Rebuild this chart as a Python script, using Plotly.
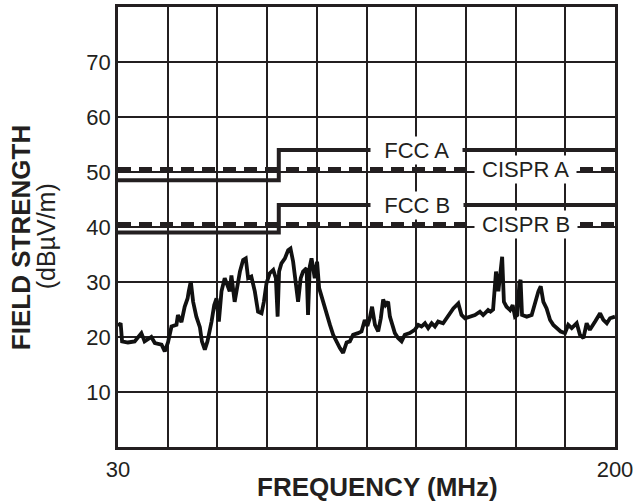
import plotly.graph_objects as go

# ---- data ----
freq_mhz = [30.0, 30.9, 31.4, 33.4, 35.7, 38.0, 39.1, 41.4, 42.6, 44.9, 46.0, 47.1, 48.3, 50.0, 50.5,
            51.7, 52.8, 53.8, 54.2, 54.9, 55.7, 56.8, 58.0, 58.7, 59.7, 60.6, 62.0, 62.9, 63.7, 64.5,
            65.4, 66.5, 68.2, 68.8, 69.9, 71.1, 71.7, 72.8, 73.7, 74.5, 75.6, 76.8, 77.9, 79.1, 79.9,
            80.8, 81.9, 83.1, 84.0, 84.6, 85.1, 85.9, 87.1, 88.2, 89.0, 89.9, 90.8, 91.6, 92.5, 93.3,
            94.5, 95.0, 95.6, 96.2, 97.3, 98.1, 98.8, 99.6, 100.7, 101.5, 102.5, 103.6, 104.7, 105.9,
            107.0, 108.2, 109.3, 110.4, 112.1, 113.3, 114.4, 115.3, 116.1, 116.9, 117.9, 119.0, 119.9,
            120.7, 121.5, 122.4, 123.0, 123.8, 124.7, 125.8, 127.0, 128.1, 129.8, 131.5, 132.7, 133.8,
            135.0, 136.1, 137.3, 138.4, 139.5, 141.2, 142.9, 144.7, 146.4, 147.5, 148.7, 150.4, 152.1,
            153.8, 154.9, 156.6, 157.4, 158.3, 159.3, 160.1, 160.9, 161.4, 162.0, 162.9, 164.1, 165.0,
            165.8, 166.6, 167.3, 167.7, 168.2, 169.8, 171.5, 172.6, 173.8, 174.6, 175.5, 176.6, 177.8,
            178.9, 180.1, 181.4, 182.9, 184.0, 185.2, 186.9, 188.0, 189.2, 190.3, 191.4, 193.2, 194.9,
            196.0, 197.2, 198.3, 200.0]
level_dbuv = [22.0, 22.5, 19.2, 19.0, 19.2, 20.7, 19.2, 20.0, 18.9, 18.6, 17.4, 19.0, 21.9, 22.2, 24.0,
              22.7, 25.5, 27.0, 28.3, 30.1, 26.4, 23.7, 21.8, 19.2, 17.7, 19.2, 22.8, 25.8, 27.0, 22.8,
              28.3, 30.7, 28.3, 31.2, 26.4, 30.1, 31.9, 34.0, 34.3, 30.7, 31.0, 28.3, 24.6, 24.3, 26.4,
              29.8, 31.6, 32.2, 30.7, 23.7, 31.9, 33.4, 34.3, 35.8, 36.1, 33.7, 29.8, 26.4, 30.7, 31.9,
              32.5, 24.0, 32.8, 34.3, 30.7, 33.7, 28.9, 27.4, 25.2, 24.0, 22.2, 20.4, 19.2, 18.0,
              17.1, 19.0, 19.2, 20.4, 20.7, 21.0, 23.1, 22.0, 23.4, 25.5, 22.2, 21.0, 23.4,
              26.8, 25.8, 26.4, 23.7, 22.2, 20.7, 19.8, 19.2, 20.4, 20.7, 21.3, 22.2, 21.9,
              22.5, 21.6, 22.5, 21.9, 22.8, 22.5, 23.7, 25.2, 26.1, 24.0, 23.4, 23.7, 24.0,
              24.6, 24.0, 24.9, 24.6, 25.0, 31.9, 28.3, 32.5, 34.6, 26.4, 25.5, 24.9, 25.8,
              23.7, 24.0, 29.8, 30.4, 24.0, 23.7, 24.0, 26.1, 28.3, 29.2, 26.4, 25.2, 23.1,
              22.2, 21.6, 21.0, 20.7, 22.2, 21.6, 22.5, 20.4, 19.8, 22.5, 21.3, 22.8, 24.3,
              23.1, 22.5, 23.4, 23.7]

limit_freq = [30, 85, 200]
fcc_a = [48.5, 54.0, 54.0]
fcc_b = [39.0, 44.0, 44.0]
cispr_freq = [30, 200]
cispr_a = [50.5, 50.5]
cispr_b = [40.5, 40.5]

limit_labels = ["FCC A", "CISPR A", "FCC B", "CISPR B"]
label_x = [132.2, 169.5, 132.2, 169.5]
label_y = [54.0, 50.5, 44.0, 40.5]

y_ticks = [10, 20, 30, 40, 50, 60, 70]
x_ticks = [30, 200]

INK = "#231f20"
FONT = "Liberation Sans, Arial, sans-serif"

fig = go.Figure()

fig.add_trace(go.Scatter(x=freq_mhz, y=level_dbuv, mode="lines",
                         line=dict(color="#111111", width=3.8), showlegend=False))
for ys in (fcc_a, fcc_b):
    fig.add_trace(go.Scatter(x=limit_freq, y=ys, mode="lines", line_shape="hv",
                             line=dict(color=INK, width=4), showlegend=False))
for ys in (cispr_a, cispr_b):
    fig.add_trace(go.Scatter(x=cispr_freq, y=ys, mode="lines",
                             line=dict(color=INK, width=4.5, dash="13px,8px"), showlegend=False))

annotations = []
for txt, xv, yv in zip(limit_labels, label_x, label_y):
    pad = "\u00a0\u00a0" if txt.startswith("FCC") else "\u00a0"
    annotations.append(dict(x=xv, y=yv, xref="x", yref="y", text=pad + txt + pad,
                            showarrow=False, bgcolor="white", borderpad=1,
                            font=dict(family=FONT, size=22, color=INK)))

annotations += [
    dict(x=0.523, y=-0.09, xref="paper", yref="paper", text="<b>FREQUENCY (MHz)</b>",
         xanchor="center", yanchor="middle",
         showarrow=False, font=dict(family=FONT, size=26, color=INK)),
    dict(x=-0.196, y=0.476, xref="paper", yref="paper", text="<b>FIELD STRENGTH</b>",
         xanchor="center", yanchor="middle",
         textangle=-90, showarrow=False, font=dict(family=FONT, size=26, color=INK)),
    dict(x=-0.1456, y=0.478, xref="paper", yref="paper", text="(dBµV/m)",
         xanchor="center", yanchor="middle",
         textangle=-90, showarrow=False, font=dict(family=FONT, size=25, color=INK)),
]

fig.update_layout(
    width=633, height=504,
    margin=dict(l=118, r=18, t=7, b=57),
    paper_bgcolor="white", plot_bgcolor="white",
    annotations=annotations,
    font=dict(family=FONT, color=INK),
)
fig.update_xaxes(range=[30, 200], tickvals=x_ticks, ticktext=[str(v) for v in x_ticks],
                 showgrid=True, gridcolor=INK, gridwidth=2,
                 minor=dict(tick0=30, dtick=17, showgrid=True, gridcolor=INK, gridwidth=2),
                 showline=True, linecolor=INK, linewidth=2.5, mirror=True,
                 ticks="", ticklabelstandoff=1, ticklabeloverflow="allow",
                 zeroline=False, automargin=False,
                 tickfont=dict(family=FONT, size=22, color=INK))
fig.update_yaxes(range=[0, 80], tickvals=y_ticks,
                 showgrid=True, gridcolor=INK, gridwidth=2,
                 showline=True, linecolor=INK, linewidth=2.5, mirror=True,
                 ticks="", ticklabelstandoff=0, zeroline=False, automargin=False,
                 tickfont=dict(family=FONT, size=22, color=INK))

fig.write_html("out.html", config={"displayModeBar": False},
               post_script="document.body.style.margin='0';document.body.style.overflow='hidden';")
